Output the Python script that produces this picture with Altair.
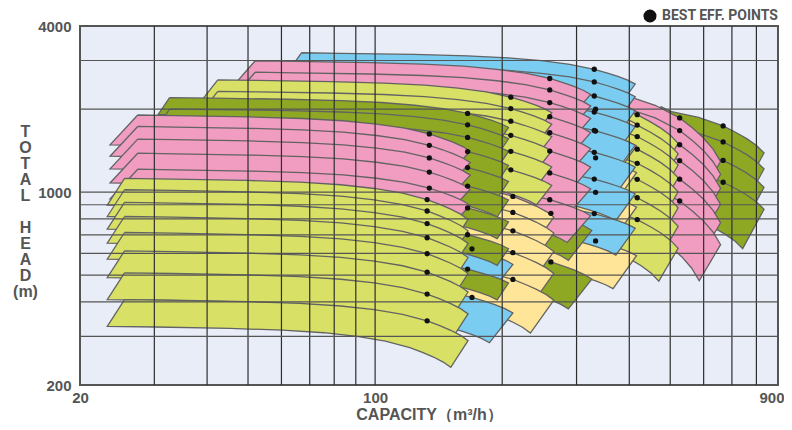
import altair as alt
import pandas as pd

# ---------------- data ----------------
# normalised pump-curve shape (Q / Q_end  ->  fraction of total droop), read from the lowest lime band
SHAPE_Q = [0.10, 0.20, 0.30, 0.40, 0.50, 0.60, 0.70, 0.80, 0.86, 0.91, 0.96, 1.00]
SHAPE_D = [0.00, 0.02, 0.06, 0.11, 0.18, 0.28, 0.40, 0.56, 0.68, 0.78, 0.89, 1.00]
BEP_POINT = 7  # best efficiency point sits at 0.8 * Q_end

# pump families, listed in drawing order (first = behind)
FAM_COLOR = ["#8fa824", "#f19cc1", "#d8e065", "#fee597", "#7acdf1", "#8fa824", "#f19cc1",
             "#fee597", "#d8e065", "#7acdf1", "#8fa824", "#f19cc1", "#d8e065"]
FAM_Q_START = [475, 400, 300, 150, 67, 120, 52, 45, 42.4, 100, 32.6, 27.4, 25.5]
FAM_Q_END = [834, 658, 522, 416, 413, 326, 324, 265, 262, 212, 207, 168, 166]
FAM_H_STAGE = [273, 258, 202, 382, 320, 327, 272, 145, 232, 240, 200, 173, 102]   # shut-off head per stage
FAM_DROOP = [0.365, 0.50, 0.38, 0.23, 0.23, 0.26, 0.245, 0.30, 0.24, 0.24, 0.22, 0.26, 0.29]
FAM_STAGE_MIN = [5, 5, 5, 2, 3, 2, 4, 4, 6, 2, 3, 7, 4]
FAM_STAGE_MAX = [8, 10, 12, 6, 10, 3, 11, 8, 11, 3, 11, 11, 11]
FAM_TRIM_Q = [0.89, 0.89, 0.90, 0.88, 0.90, 0.88, 0.88, 0.88, 0.92, 0.88, 0.94, 0.86, 0.91]
FAM_TRIM_H = [0.72, 0.74, 0.76, 0.76, 0.80, 0.78, 0.80, 0.76, 0.85, 0.78, 0.87, 0.78, 0.80]

X_GRID = [30, 40, 50, 60, 70, 80, 90, 100, 200, 300, 400, 500, 600, 700, 800]
Y_GRID = [300, 400, 500, 600, 700, 800, 900, 1000, 2000, 3000]
X_LABELS = [20, 100, 900]
Y_LABELS = [200, 1000, 4000]
X_TITLE = "CAPACITY（m³/h）"
Y_TITLE_LINES = ["T", "O", "T", "A", "L", "\u2800", "H", "E", "A", "D", "(m)"]
LEGEND_LABEL = "BEST EFF. POINTS"

# ---------------- build band polygons (stage multiples + impeller trim) ----------------
rows, dots = [], []
for f in range(len(FAM_COLOR)):
    qs, qe = FAM_Q_START[f], FAM_Q_END[f]
    s = qs / qe
    idx = [i for i, q in enumerate(SHAPE_Q) if q > s]
    d0 = SHAPE_D[idx[0] - 1] if idx[0] > 0 else 0.0
    qpts = [qs] + [SHAPE_Q[i] * qe for i in idx]
    dpts = [d0] + [SHAPE_D[i] for i in idx]
    h0, k = FAM_H_STAGE[f], FAM_DROOP[f]
    rq, rh = FAM_TRIM_Q[f], FAM_TRIM_H[f]
    for n in range(FAM_STAGE_MAX[f], FAM_STAGE_MIN[f] - 1, -1):
        top = [(q, n * h0 * (1 - k * d)) for q, d in zip(qpts, dpts)]
        bot = [(q * rq, h * rh) for q, h in top][::-1]
        poly = top + bot + [top[0]]
        key = f"f{f:02d}_s{FAM_STAGE_MAX[f] - n:02d}"
        for i, (q, h) in enumerate(poly):
            rows.append({"key": key, "i": i, "q": q, "h": h, "col": FAM_COLOR[f]})
        dots.append({"q": SHAPE_Q[BEP_POINT] * qe,
                     "h": n * h0 * (1 - k * SHAPE_D[BEP_POINT]),
                     "lbl": LEGEND_LABEL})

poly_df = pd.DataFrame(rows)
dot_df = pd.DataFrame(dots)
vgrid_df = pd.DataFrame({"q": X_GRID})
hgrid_df = pd.DataFrame({"h": Y_GRID})

FONT = "Liberation Sans"
GREY = "#555555"

xs = alt.Scale(type="log", domain=[20, 900], nice=False)
ys = alt.Scale(type="log", domain=[200, 4000], nice=False)

x_axis = alt.Axis(values=X_LABELS, format="d", grid=False, ticks=False, tickSize=0, domain=False,
                  labelPadding=5, labelFontSize=15, labelFont=FONT, labelFontWeight="bold",
                  labelColor=GREY, labelFlush=False, labelOverlap=False,
                  labelAlign=alt.ExprRef(expr="datum.value >= 900 ? 'right' : 'center'"),
                  labelOffset=alt.ExprRef(expr="datum.value >= 900 ? 6 : 0"),
                  title=X_TITLE, titleFont=FONT, titleFontSize=16, titleFontWeight="bold",
                  titleColor=GREY, titleBaseline="alphabetic", titleY=34)
y_axis = alt.Axis(values=Y_LABELS, format="d", grid=False, ticks=False, tickSize=0, domain=False,
                  labelPadding=9, labelFontSize=15, labelFont=FONT, labelFontWeight="bold",
                  labelColor=GREY, labelFlush=False, labelOverlap=False, labelBaseline="middle",
                  title=Y_TITLE_LINES, titleFont=FONT, titleFontSize=16, titleFontWeight="bold",
                  titleColor=GREY, titleAngle=0, titleAlign="center", titleBaseline="top",
                  titleLineHeight=16, titleX=-55, titleY=97)

X = lambda: alt.X("q:Q", scale=xs, axis=x_axis)
Y = lambda: alt.Y("h:Q", scale=ys, axis=y_axis)

bands = alt.Chart(poly_df).mark_line(stroke="#636363", strokeWidth=1.3, clip=True).encode(
    x=X(), y=Y(), detail="key:N", order="i:Q", fill=alt.Fill("col:N", scale=None)
)

vgrid = alt.Chart(vgrid_df).mark_rule(color="#2e2e2e", strokeWidth=1.2).encode(x=X())
hgrid = alt.Chart(hgrid_df).mark_rule(color="#555555", strokeWidth=1.2).encode(y=Y())

points = alt.Chart(dot_df).mark_circle(size=28, opacity=1).encode(
    x=X(), y=Y(),
    color=alt.Color("lbl:N", scale=alt.Scale(range=["#111111"]),
                    legend=alt.Legend(orient="none", legendX=563, legendY=-17, title=None,
                                      symbolSize=170, symbolType="circle", symbolStrokeWidth=0,
                                      labelFont="Roboto", labelFontSize=14, labelFontWeight="bold",
                                      labelColor=GREY, labelOffset=5))
)

chart = alt.layer(bands, vgrid, hgrid, points).properties(
    width=698, height=359,
    autosize=alt.AutoSizeParams(type="none"),
    padding={"left": 72, "top": 18, "right": 6, "bottom": 37},
).configure_view(fill="#e8edf8", stroke="#555555", strokeWidth=2)

chart.save("out.html", embed_options={"renderer": "svg", "actions": False})
